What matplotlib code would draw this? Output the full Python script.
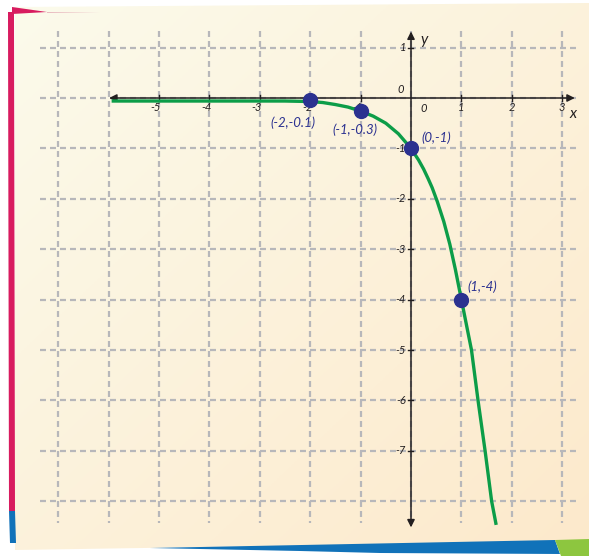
import numpy as np
import matplotlib
matplotlib.use("Agg")
import matplotlib.pyplot as plt
from matplotlib.patches import Polygon

plt.rcParams['lines.scale_dashes'] = False

# points read along the curve y = -4^x
curve_x = [-5.94, -4.0, -3.0, -2.5, -2.0, -1.75, -1.5, -1.25, -1.0, -0.75, -0.5, -0.25, 0.0,
           0.15, 0.25, 0.34, 0.42, 0.52, 0.65, 0.77, 0.88, 1.0, 1.1, 1.2, 1.33, 1.47, 1.6, 1.69]
curve_y = [-0.06, -0.06, -0.06, -0.06, -0.07, -0.09, -0.13, -0.18, -0.26, -0.36, -0.5, -0.71, -1.0,
           -1.23, -1.41, -1.6, -1.78, -2.05, -2.45, -2.9, -3.4, -4.0, -4.5, -5.0, -6.0, -7.0, -8.0, -8.47]

# marked points and their labels
pt_x = [-2, -1, 0, 1]
pt_y = [-0.03, -0.26, -1, -4]
pt_labels = ['(-2,-0.1)', '(-1,-0.3)', '(0,-1)', '(1,-4)']
pt_label_pos = [(-2.34, -0.50), (-1.11, -0.63), (0.50, -0.79), (1.41, -3.75)]

x_ticks = [-5, -4, -3, -2, -1, 1, 2, 3]
y_ticks = [1, -1, -2, -3, -4, -5, -6, -7]
grid_x = list(range(-7, 4))
grid_y = list(range(1, -9, -1))

W, H = 589, 556
fig = plt.figure(figsize=(W / 100, H / 100), dpi=100)
fig.patch.set_facecolor('white')

# paper background in pixel coordinates
bg = fig.add_axes([0, 0, 1, 1], zorder=0)
bg.set_xlim(0, W)
bg.set_ylim(H, 0)
bg.axis('off')

paper = Polygon([(15, 7), (589, 3), (589, 541), (15, 550)], closed=True,
                facecolor='none', edgecolor='none')
bg.add_patch(paper)
X, Y = np.meshgrid(np.linspace(0, 1, 200), np.linspace(0, 1, 200))
t = (X + Y) / 2
c0 = np.array([251, 251, 236]) / 255
c1 = np.array([253, 233, 203]) / 255
grad = c0[None, None, :] * (1 - t[..., None]) + c1[None, None, :] * t[..., None]
im = bg.imshow(grad, extent=(0, W, H, 0), aspect='auto', zorder=1)
im.set_clip_path(paper)

bg.add_patch(Polygon([(8, 12), (14, 12), (15, 511), (9, 511)], facecolor='#d81b5f', edgecolor='none', zorder=2))
bg.add_patch(Polygon([(9, 511), (15, 511), (16, 543), (10, 543)], facecolor='#1172b9', edgecolor='none', zorder=2))
bg.add_patch(Polygon([(12, 7), (47, 12), (12, 14)], facecolor='#d81b5f', edgecolor='none', zorder=2))
bg.add_patch(Polygon([(47, 12), (100, 12.5), (47, 13)], facecolor='#e8b9bf', edgecolor='none', zorder=2))
bg.add_patch(Polygon([(150, 548), (555, 540), (560, 554), (380, 553), (300, 551)],
                     facecolor='#1172b9', edgecolor='none', zorder=2))
bg.add_patch(Polygon([(555, 540), (589, 539), (589, 556), (561, 556)],
                     facecolor='#8dc63f', edgecolor='none', zorder=2))

# chart axes, 50.4 px per unit, origin at (411, 98)
u = 50.4
ax = fig.add_axes([0, 0, 1, 1], zorder=1)
ax.set_facecolor('none')
ax.set_xlim(-411 / u, (W - 411) / u)
ax.set_ylim(-(H - 98) / u, 98 / u)
ax.axis('off')

gcol = '#b7b7ba'
for gx in grid_x:
    ax.plot([gx, gx], [1.33, -8.43], color=gcol, lw=1.6, dashes=(4.3, 2.9), zorder=1)
for gy in grid_y:
    ax.plot([-7.36, 3.31], [gy, gy], color=gcol, lw=1.6, dashes=(4.3, 2.9), zorder=1)

# axes with arrowheads
ax.annotate('', xy=(-5.99, 0), xytext=(3.25, 0),
            arrowprops=dict(arrowstyle='<|-|>', color='#231f20', lw=1.1, mutation_scale=11,
                            shrinkA=0, shrinkB=0), zorder=3)
ax.annotate('', xy=(0, 1.32), xytext=(0, -8.52),
            arrowprops=dict(arrowstyle='<|-|>', color='#231f20', lw=1.1, mutation_scale=11,
                            shrinkA=0, shrinkB=0), zorder=3)
for tx in x_ticks:
    ax.plot([tx, tx], [-0.05, 0.05], color='#231f20', lw=1, zorder=3)
for ty in y_ticks:
    ax.plot([-0.06, 0.04], [ty, ty], color='#231f20', lw=1, zorder=3)

tfont = dict(family='Lato', style='italic', color='#231f20', fontsize=8)
for tx in x_ticks:
    off = -0.06 if tx < 0 else 0
    ax.text(tx + off, -0.18, str(tx), ha='center', va='center', zorder=3, **tfont)
ax.text(0.26, -0.2, '0', ha='center', va='center', zorder=3, **tfont)
ax.text(-0.2, 0.16, '0', ha='center', va='center', zorder=3, **tfont)
for ty in y_ticks:
    ax.text(-0.1, ty, str(ty), ha='right', va='center', zorder=3, **tfont)
ax.text(3.21, -0.32, 'x', ha='center', va='center', family='Lato', style='italic',
        color='#231f20', fontsize=11, zorder=3)
ax.text(0.27, 1.15, 'y', ha='center', va='center', family='Lato', style='italic',
        color='#231f20', fontsize=11, zorder=3)

ax.plot(curve_x, curve_y, color='#0c9d48', lw=2.4, solid_capstyle='butt',
        solid_joinstyle='round', zorder=4)
ax.plot(pt_x, pt_y, 'o', color='#2b3190', markersize=10, zorder=5)
for lab, (lx, ly) in zip(pt_labels, pt_label_pos):
    ax.text(lx, ly, lab, ha='center', va='center', family='Lato', style='italic',
            color='#2b3190', fontsize=9.5, zorder=5)

fig.savefig('out.png', dpi=100)
